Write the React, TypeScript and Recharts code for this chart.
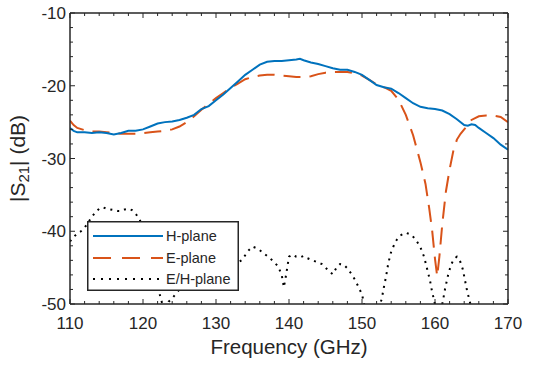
import React from 'react';
import { LineChart, Line, XAxis, YAxis, Legend } from 'recharts';

// ---- data ----
const hFreq = [110, 110.5, 111, 112, 113, 114, 115, 116, 117, 118, 119, 120, 121, 122, 123, 124, 125, 126, 127, 128, 129, 130, 131, 132, 133, 134, 135, 136, 137, 138, 139, 140, 141, 141.5, 142, 143, 144, 145, 146, 147, 148, 149, 150, 151, 152, 153, 154, 155, 156, 157, 158, 159, 160, 161, 162, 163, 164, 164.5, 165, 165.5, 166, 167, 168, 169, 170];
const hVals = [-25.8, -26.2, -26.4, -26.4, -26.5, -26.4, -26.5, -26.7, -26.5, -26.2, -26.2, -26.0, -25.6, -25.2, -25.0, -24.9, -24.7, -24.4, -24.0, -23.2, -22.8, -22.0, -21.2, -20.3, -19.4, -18.5, -17.8, -17.1, -16.7, -16.6, -16.6, -16.5, -16.4, -16.3, -16.5, -16.8, -17.0, -17.3, -17.6, -17.8, -17.8, -18.1, -18.5, -19.2, -19.9, -20.2, -20.4, -21.0, -21.7, -22.4, -22.9, -23.1, -23.2, -23.4, -23.9, -24.6, -25.4, -25.5, -25.3, -25.4, -25.8, -26.5, -27.2, -28.1, -28.8];

const eFreq = [110, 110.5, 111, 112, 113, 114, 115, 116, 117, 118, 119, 120, 121, 122, 123, 124, 125, 126, 127, 128, 129, 130, 131, 132, 133, 134, 135, 136, 137, 138, 139, 140, 141, 142, 143, 144, 145, 146, 147, 148, 149, 150, 151, 152, 153, 154, 155, 156, 157, 158, 158.7, 159.2, 159.6, 160, 160.3, 160.6, 161, 161.5, 162, 162.5, 163, 163.5, 164, 164.5, 165, 166, 167, 168, 169, 170];
const eVals = [-24.8, -25.4, -25.8, -26.1, -26.3, -26.3, -26.4, -26.5, -26.6, -26.6, -26.6, -26.5, -26.4, -26.3, -26.2, -26.0, -25.6, -25.0, -24.2, -23.3, -22.5, -21.7, -21.0, -20.3, -19.7, -19.1, -18.8, -18.6, -18.5, -18.5, -18.6, -18.7, -18.8, -18.8, -18.7, -18.4, -18.2, -18.1, -18.1, -18.1, -18.3, -18.6, -19.2, -19.8, -20.2, -20.7, -21.9, -24.0, -26.8, -30.5, -33.5, -36.8, -39.8, -43.8, -46.2, -43.5, -39.0, -34.5, -31.5, -29.0, -27.4, -26.6, -26.0, -25.4, -24.7, -24.2, -24.1, -24.1, -24.3, -25.0];

const rFreq = [110, 110.5, 111, 111.5, 112, 112.5, 113, 113.5, 114, 114.5, 115, 115.5, 116, 116.5, 117, 117.5, 118, 118.5, 119, 119.5, 120, 120.5, 121, 121.5, 122, 122.5, 123, 123.5, 124, 124.5, 125, 126, 127, 128, 129, 130, 131, 132, 133, 133.5, 134, 134.5, 135, 135.5, 136, 136.5, 137, 137.5, 138, 138.5, 139, 139.3, 139.6, 140, 140.5, 141, 141.5, 142, 142.5, 143, 143.5, 144, 144.5, 145, 145.5, 146, 146.5, 147, 147.5, 148, 148.5, 149, 149.5, 150, 150.3, 150.8, 152, 152.5, 152.7, 153, 153.3, 153.6, 154, 154.6, 155.2, 156, 156.8, 157.4, 158, 158.5, 158.9, 159.3, 159.6, 159.9, 160.2, 160.8, 161.1, 161.4, 161.8, 162.2, 162.6, 163, 163.4, 163.8, 164.1, 164.4, 164.8, 165.2, 170];
const rVals = [-41.4, -40.8, -40.3, -40.0, -39.5, -38.8, -38.0, -37.4, -36.9, -36.7, -36.9, -37.0, -37.1, -37.2, -37.2, -37.0, -36.9, -37.1, -37.6, -38.3, -39.5, -41.0, -43.0, -45.5, -47.5, -49.5, -51.0, -49.7, -49.2, -48.6, -48.0, -46.0, -44.5, -43.5, -43.0, -43.2, -43.8, -44.3, -44.3, -44.0, -43.3, -42.6, -42.1, -42.3, -42.6, -43.0, -43.4, -43.8, -44.3, -44.8, -46.0, -47.7, -46.0, -43.5, -43.2, -43.5, -43.6, -43.4, -43.7, -43.9, -44.1, -44.3, -44.5, -45.0, -45.5, -45.9, -45.0, -44.5, -44.6, -45.1, -45.8, -46.6, -47.6, -48.7, -50.0, -51.5, -51.5, -50.0, -49.3, -47.7, -46.2, -44.4, -42.8, -41.4, -40.6, -40.2, -40.5, -41.2, -42.2, -43.5, -45.1, -46.7, -48.3, -49.6, -51.0, -51.0, -49.5, -47.8, -46.0, -44.6, -43.8, -43.5, -44.0, -45.2, -46.7, -48.2, -49.8, -51.5, -52.0];

const xTicks = [110, 112, 114, 116, 118, 120, 122, 124, 126, 128, 130, 132, 134, 136, 138, 140, 142, 144, 146, 148, 150, 152, 154, 156, 158, 160, 162, 164, 166, 168, 170];
const yTicks = [-50, -48, -46, -44, -42, -40, -38, -36, -34, -32, -30, -28, -26, -24, -22, -20, -18, -16, -14, -12, -10];
const seriesNames = ['H-plane', 'E-plane', 'E/H-plane'];

const hData = hFreq.map((f, i) => ({ f, v: hVals[i] }));
const eData = eFreq.map((f, i) => ({ f, v: eVals[i] }));
const rData = rFreq.map((f, i) => ({ f, v: rVals[i] }));

const INK = '#262626';
const FONT = '"Liberation Sans", Arial, Helvetica, sans-serif';
const BLUE = '#0072BD';
const ORANGE = '#D95319';
const DASH = '17 9';
const DOT = '2 5';

const isMajor = (v: number) => Math.abs(v % 10) < 1e-9;

const BottomTick = (p: any) => {
  const { x, y, payload } = p;
  const m = isMajor(payload.value);
  return (
    <g>
      <line x1={x} y1={y} x2={x} y2={y - (m ? 5 : 3)} stroke={INK} strokeWidth={1} />
      {m && (
        <text x={x} y={y + 25} textAnchor="middle" fontSize={17} fill={INK} fontFamily={FONT}>
          {payload.value}
        </text>
      )}
    </g>
  );
};
const TopTick = (p: any) => {
  const { x, y, payload } = p;
  const m = isMajor(payload.value);
  return <line x1={x} y1={y} x2={x} y2={y + (m ? 5 : 3)} stroke={INK} strokeWidth={1} />;
};
const LeftTick = (p: any) => {
  const { x, y, payload } = p;
  const m = isMajor(payload.value);
  return (
    <g>
      <line x1={x} y1={y} x2={x + (m ? 5 : 3)} y2={y} stroke={INK} strokeWidth={1} />
      {m && (
        <text x={x - 4} y={y + 6} textAnchor="end" fontSize={17} fill={INK} fontFamily={FONT}>
          {payload.value}
        </text>
      )}
    </g>
  );
};
const RightTick = (p: any) => {
  const { x, y, payload } = p;
  const m = isMajor(payload.value);
  return <line x1={x} y1={y} x2={x - (m ? 5 : 3)} y2={y} stroke={INK} strokeWidth={1} />;
};

const renderLegend = () => (
  <svg width={152} height={70} style={{ display: 'block' }}>
    <rect x={0.75} y={0.75} width={150.5} height={68.5} fill="#fff" stroke={INK} strokeWidth={1.5} />
    <line x1={6} y1={15} x2={76} y2={15} stroke={BLUE} strokeWidth={2} />
    <line x1={6} y1={37} x2={76} y2={37} stroke={ORANGE} strokeWidth={2} strokeDasharray="18 11" />
    <line x1={6} y1={58} x2={76} y2={58} stroke="#000" strokeWidth={2} strokeDasharray="2 6" />
    {seriesNames.map((n, i) => (
      <text key={n} x={79} y={[15, 37, 58][i] + 5} fontSize={14.5} fill={INK} fontFamily={FONT}>
        {n}
      </text>
    ))}
  </svg>
);

const XLabel = (p: any) => {
  const vb = p.viewBox || {};
  const cx = (vb.x ?? 70) + (vb.width ?? 438) / 2;
  return (
    <text x={cx} y={354} textAnchor="middle" fontSize={20.5} fill={INK} fontFamily={FONT}>
      Frequency (GHz)
    </text>
  );
};
const YLabel = (p: any) => {
  const vb = p.viewBox || {};
  const cy = (vb.y ?? 13) + (vb.height ?? 291) / 2;
  return (
    <text x={25} y={cy} transform={`rotate(-90 25 ${cy})`} textAnchor="middle" fontSize={21} fill={INK} fontFamily={FONT}>
      |S<tspan fontSize={15} dy={4}>21</tspan><tspan dy={-4}>| (dB)</tspan>
    </text>
  );
};

export default function App() {
  return (
    <div style={{ position: 'absolute', left: 0, top: 0, width: 539, height: 365, background: '#fff' }}>
      <LineChart width={539} height={365} margin={{ top: 0, right: 0, bottom: 0, left: 0 }}>
        <XAxis
          xAxisId="bottom"
          dataKey="f"
          type="number"
          orientation="bottom"
          domain={[110, 170]}
          allowDataOverflow
          ticks={xTicks}
          interval={0}
          height={61}
          tickSize={0}
          tickMargin={0}
          tickLine={false}
          tick={<BottomTick />}
          axisLine={{ stroke: INK, strokeWidth: 1.5 }}
          label={{ content: <XLabel /> }}
        />
        <XAxis
          xAxisId="top"
          dataKey="f"
          type="number"
          orientation="top"
          domain={[110, 170]}
          allowDataOverflow
          ticks={xTicks}
          interval={0}
          height={13}
          tickSize={0}
          tickMargin={0}
          tickLine={false}
          tick={<TopTick />}
          axisLine={{ stroke: INK, strokeWidth: 1.5 }}
        />
        <YAxis
          yAxisId="left"
          type="number"
          domain={[-50, -10]}
          allowDataOverflow
          ticks={yTicks}
          interval={0}
          width={70}
          tickSize={0}
          tickMargin={0}
          tickLine={false}
          tick={<LeftTick />}
          axisLine={{ stroke: INK, strokeWidth: 1.5 }}
          label={{ content: <YLabel /> }}
        />
        <YAxis
          yAxisId="right"
          orientation="right"
          type="number"
          domain={[-50, -10]}
          allowDataOverflow
          ticks={yTicks}
          interval={0}
          width={31}
          tickSize={0}
          tickMargin={0}
          tickLine={false}
          tick={<RightTick />}
          axisLine={{ stroke: INK, strokeWidth: 1.5 }}
        />
        <Line
          xAxisId="bottom"
          yAxisId="left"
          data={rData}
          dataKey="v"
          name={seriesNames[2]}
          type="linear"
          stroke="#000"
          strokeWidth={2}
          strokeDasharray={DOT}
          dot={false}
          activeDot={false}
          isAnimationActive={false}
        />
        <Line
          xAxisId="bottom"
          yAxisId="left"
          data={eData}
          dataKey="v"
          name={seriesNames[1]}
          type="linear"
          stroke={ORANGE}
          strokeWidth={2}
          strokeDasharray={DASH}
          dot={false}
          activeDot={false}
          isAnimationActive={false}
        />
        <Line
          xAxisId="bottom"
          yAxisId="left"
          data={hData}
          dataKey="v"
          name={seriesNames[0]}
          type="linear"
          stroke={BLUE}
          strokeWidth={2}
          dot={false}
          activeDot={false}
          isAnimationActive={false}
        />
        <Legend
          layout="vertical"
          align="center"
          verticalAlign="middle"
          content={renderLegend}
          wrapperStyle={{ position: 'absolute', left: 87, top: 221, width: 152, height: 70 }}
        />
      </LineChart>
    </div>
  );
}
